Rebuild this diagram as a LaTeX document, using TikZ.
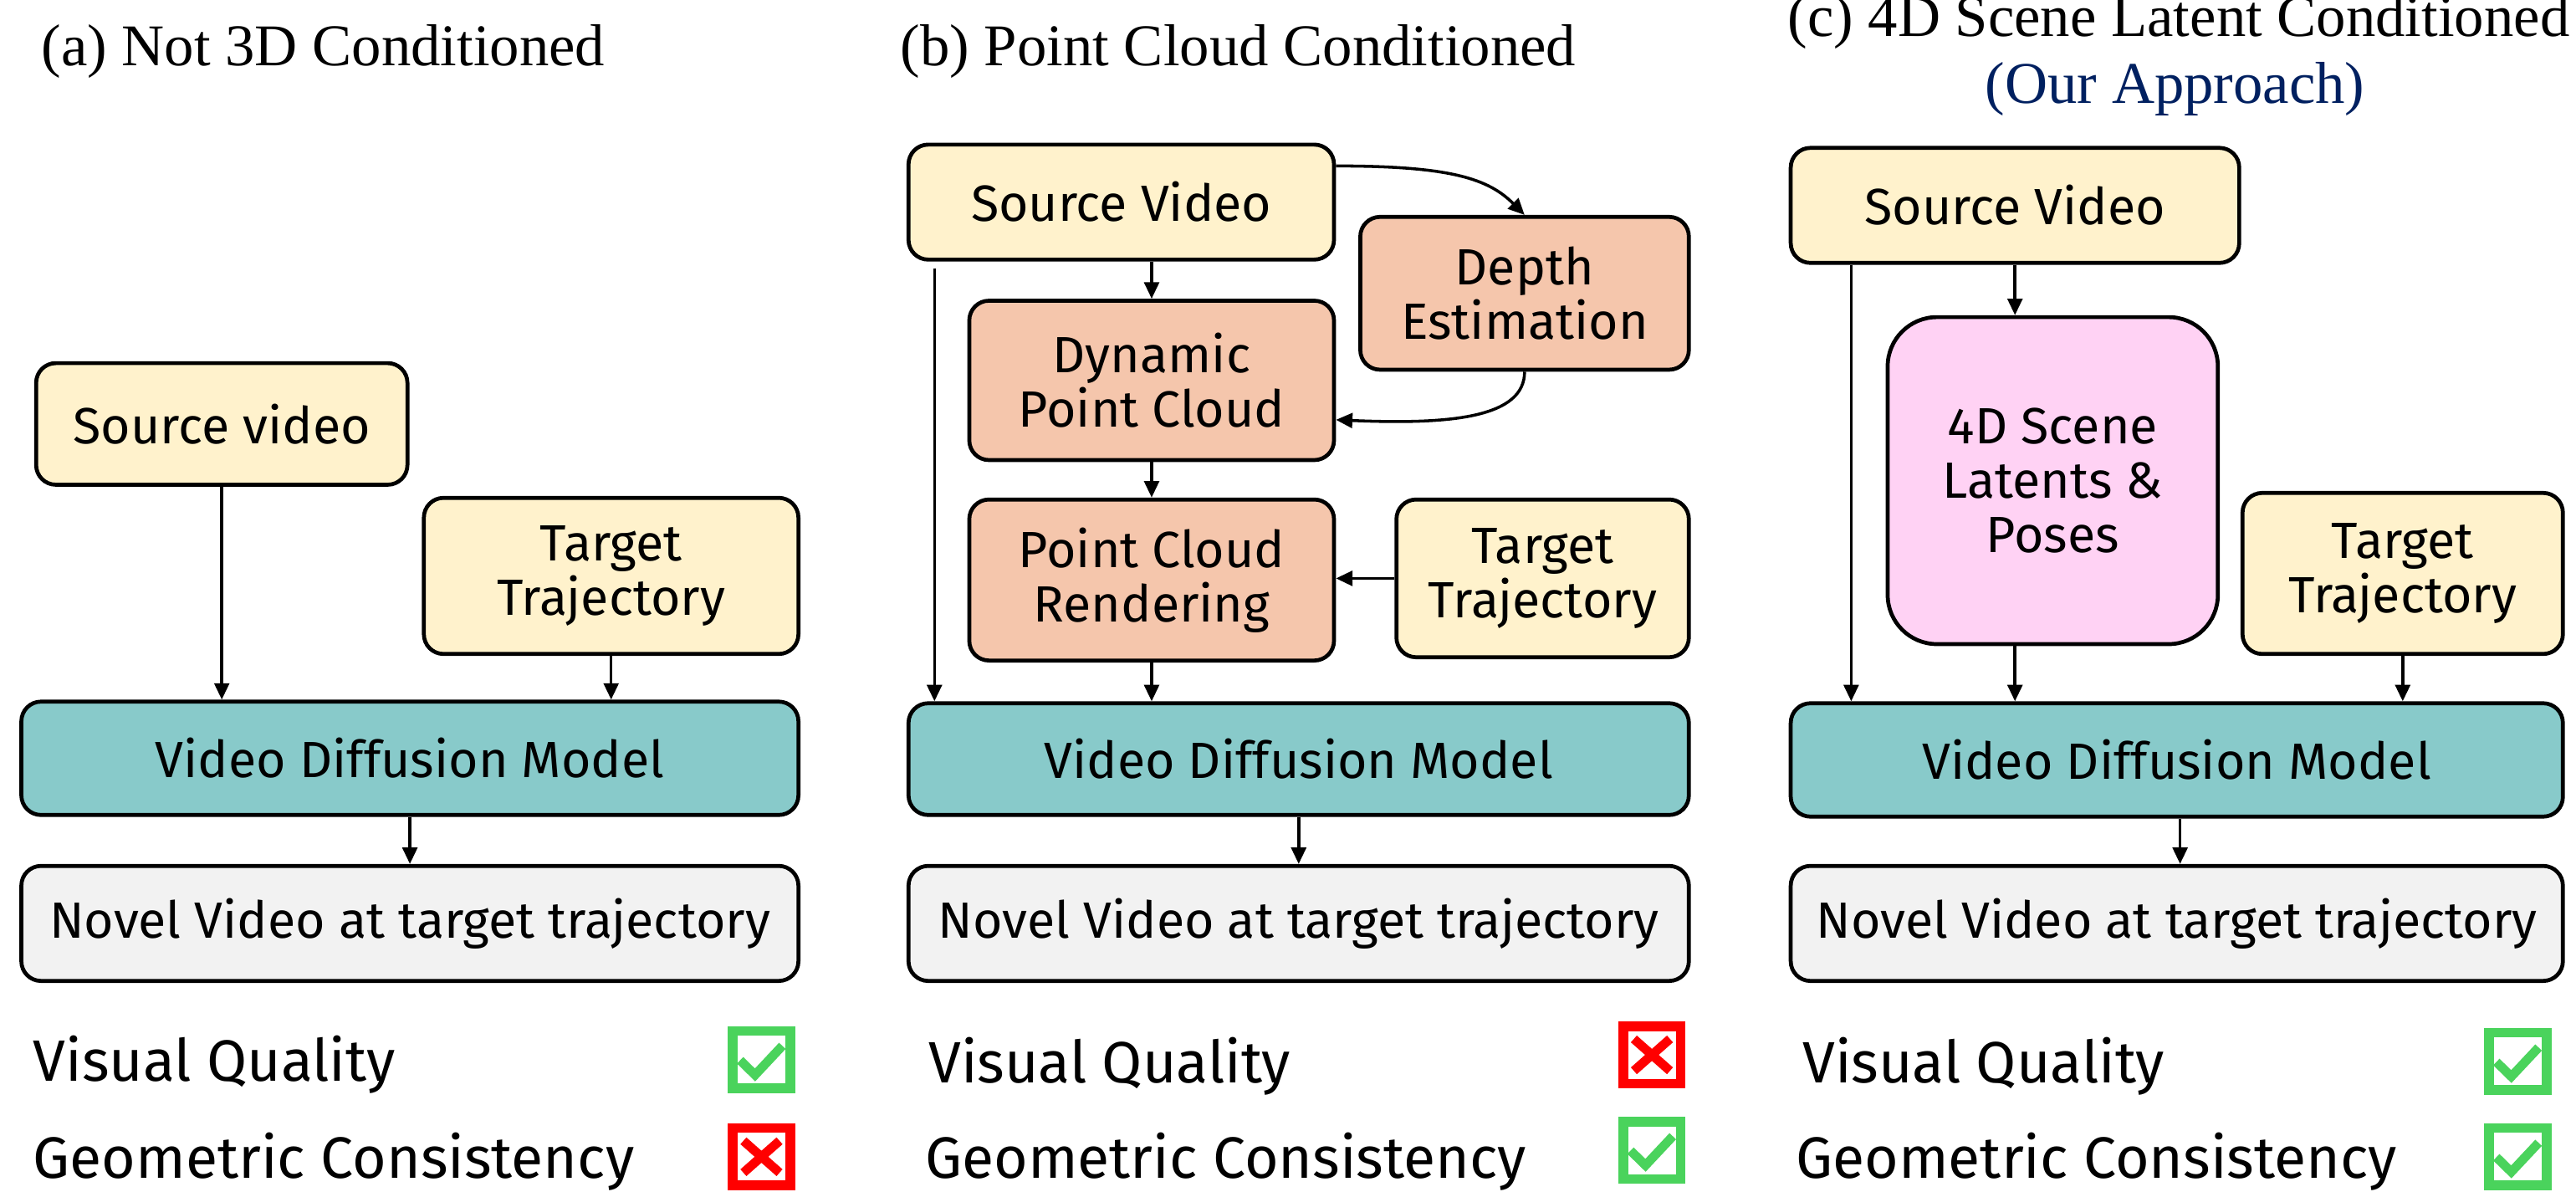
\documentclass[tikz,border=0pt]{standalone}
\usepackage{fontspec}
\setmainfont{Liberation Serif}
\newfontfamily\boxfont{Fira Sans}
\usetikzlibrary{arrows.meta,calc}

\definecolor{srcfill}{HTML}{FFF2CC}
\definecolor{vdmfill}{HTML}{88CACA}
\definecolor{outfill}{HTML}{F2F2F2}
\definecolor{procfill}{HTML}{F5C6AC}
\definecolor{latfill}{HTML}{FFD2F4}
\definecolor{markgreen}{HTML}{4AD35C}
\definecolor{markred}{HTML}{FF0000}
\definecolor{oursblue}{HTML}{002060}

\tikzset{
  blk/.style={draw=black, line width=2.4pt, rounded corners=12pt, align=center,
    inner sep=0pt, font=\boxfont\fontsize{31}{33}\selectfont},
  srcbox/.style={blk, fill=srcfill},
  vdmbox/.style={blk, fill=vdmfill},
  outbox/.style={blk, fill=outfill},
  procbox/.style={blk, fill=procfill},
  latbox/.style={blk, fill=latfill, rounded corners=30pt},
  ttl/.style={font=\fontsize{36}{40}\selectfont, inner sep=0pt, anchor=base west},
  crit/.style={font=\boxfont\fontsize{35.5}{38}\selectfont, inner sep=0pt, anchor=base west},
  arr/.style={line width=1.8pt, -{Triangle[length=10pt,width=9pt]}},
  okmark/.pic={
    \draw[markgreen, line width=6pt, fill=white] (-17.5,-17.5) rectangle (17.5,17.5);
    \draw[markgreen, line width=5.5pt] (-13,0.3) -- (-3.9,9.2) -- (12.7,-8.5);
  },
  nomark/.pic={
    \draw[markred, line width=6pt, fill=white] (-17.5,-17.5) rectangle (17.5,17.5);
    \draw[markred, line width=5.5pt] (-11,-9.7) -- (11,9.7) (11,-9.7) -- (-11,9.7);
  }
}

\begin{document}
\begin{tikzpicture}[x=1pt, y=-1pt]
\useasboundingbox (0,0) rectangle (1568,725);

% ---------- titles ----------
\node[ttl] (tA) at (25,40) {(a) Not 3D Conditioned};
\node[ttl] (tB) at (548,40) {(b) Point Cloud Conditioned};
\node[ttl] (tC) at (1088,22) {(c) 4D Scene Latent Conditioned};
\node[ttl, anchor=base, text=oursblue] (tCours) at (1324,63) {(Our Approach)};

% ---------- (a) not 3D conditioned ----------
\node[srcbox, minimum width=226pt, minimum height=74pt] (srcA) at (135,258) {Source video};
\node[srcbox, minimum width=228pt, minimum height=95pt] (tgtA) at (372,350.5) {Target\\Trajectory};
\node[vdmbox, minimum width=473pt, minimum height=69pt] (vdmA) at (249.5,461.5) {Video Diffusion Model};
\node[outbox, minimum width=473pt, minimum height=70pt] (novA) at (249.5,562) {Novel Video at target trajectory};

\draw[arr] (srcA.south) -- (srcA.south |- vdmA.north);
\draw[arr] (tgtA.south) -- (tgtA.south |- vdmA.north);
\draw[arr] (vdmA.south) -- (novA.north);

\node[crit] (vqA) at (20,658) {Visual Quality};
\node[crit] (gcA) at (20,717) {Geometric Consistency};
\pic at (463.5,645) {okmark};
\pic at (463.5,704) {nomark};

% ---------- (b) point cloud conditioned ----------
\node[srcbox, minimum width=259pt, minimum height=70pt] (srcB) at (682.5,123) {Source Video};
\node[procbox, minimum width=200pt, minimum height=93pt] (depB) at (928,178.5) {Depth\\Estimation};
\node[procbox, minimum width=222pt, minimum height=97pt] (dpcB) at (701,231.5) {Dynamic\\Point Cloud};
\node[procbox, minimum width=222pt, minimum height=98pt] (pcrB) at (701,353) {Point Cloud\\Rendering};
\node[srcbox, minimum width=178pt, minimum height=96pt] (tgtB) at (939,352) {Target\\Trajectory};
\node[vdmbox, minimum width=475pt, minimum height=68pt] (vdmB) at (790.5,462) {Video Diffusion Model};
\node[outbox, minimum width=475pt, minimum height=70pt] (novB) at (790.5,562) {Novel Video at target trajectory};

\coordinate (svB) at ([xshift=17pt, yshift=-4pt]srcB.south west);
\draw[arr] (svB) -- (svB |- vdmB.north);
\draw[arr] (dpcB.north |- srcB.south) -- (dpcB.north);
\draw[arr] ([yshift=22pt]srcB.east) .. controls +(70,0) and +(-22,-22) .. (depB.north);
\draw[arr] (depB.south) .. controls +(0,28) and +(70,3) .. ([yshift=-24pt]dpcB.east);
\draw[arr] (dpcB.south) -- (pcrB.north);
\draw[arr] (tgtB.west) -- (tgtB.west -| pcrB.east);
\draw[arr] (pcrB.south) -- (pcrB.south |- vdmB.north);
\draw[arr] (vdmB.south) -- (novB.north);

\node[crit] (vqB) at (565,659) {Visual Quality};
\node[crit] (gcB) at (563,717) {Geometric Consistency};
\pic at (1005.5,642) {nomark};
\pic at (1005.5,700) {okmark};

% ---------- (c) 4D scene latent conditioned ----------
\node[srcbox, minimum width=273pt, minimum height=70pt] (srcC) at (1226.5,125) {Source Video};
\node[latbox, minimum width=201pt, minimum height=199pt] (latC) at (1249.5,292.5) {4D Scene\\Latents \&\\Poses};
\node[srcbox, minimum width=195pt, minimum height=98pt] (tgtC) at (1462.5,349) {Target\\Trajectory};
\node[vdmbox, minimum width=470pt, minimum height=69pt] (vdmC) at (1325,462.5) {Video Diffusion Model};
\node[outbox, minimum width=470pt, minimum height=70pt] (novC) at (1325,562) {Novel Video at target trajectory};

\coordinate (svC) at ([xshift=38pt]srcC.south west);
\draw[arr] (svC) -- (svC |- vdmC.north);
\draw[arr] (srcC.south) -- (srcC.south |- latC.north);
\draw[arr] (srcC.south |- latC.south) -- (srcC.south |- vdmC.north);
\draw[arr] (tgtC.south) -- (tgtC.south |- vdmC.north);
\draw[arr] ([xshift=2pt]vdmC.south) -- ([xshift=2pt]novC.north);

\node[crit] (vqC) at (1097,659) {Visual Quality};
\node[crit] (gcC) at (1093,717) {Geometric Consistency};
\pic at (1532.5,646) {okmark};
\pic at (1532.5,704) {okmark};
\end{tikzpicture}
\end{document}
